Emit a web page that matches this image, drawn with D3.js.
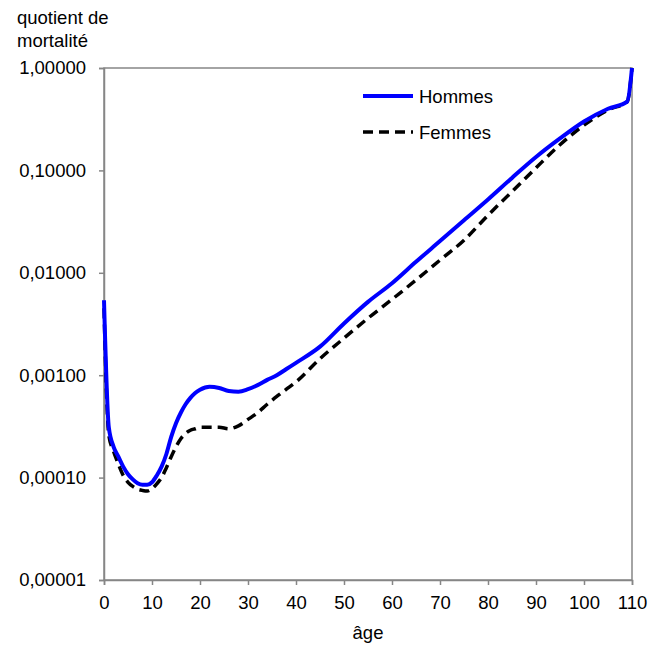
<!DOCTYPE html>
<html>
<head>
<meta charset="utf-8">
<script src="https://cdn.jsdelivr.net/npm/d3@7"></script>
<style>
  body { margin: 0; background: #fff; }
  text { font-family: "Liberation Sans", Arial, sans-serif; fill: #000; }
</style>
</head>
<body>
<div id="vis"></div>
<script>
// ages (years) and death quotients
const ages = [0, 1, 2, 3, 4, 5, 6, 7, 8, 9, 10, 11, 12, 13, 14, 15, 16, 17, 18, 19, 20,
  22, 24, 26, 28, 30, 32, 34, 36, 38, 40, 45, 50, 55, 60, 65, 70, 75, 80, 85, 90, 95,
  100, 105, 109, 110];

const hommes = [0.0054, 0.00031, 0.0002, 0.00016, 0.000128, 0.000108, 0.000096, 0.000088,
  0.000085, 0.000085, 0.00009, 0.000105, 0.000128, 0.00017, 0.00025, 0.00034, 0.00043,
  0.00052, 0.0006, 0.00067, 0.00072, 0.00077, 0.00075, 0.0007, 0.00069, 0.00073, 0.0008,
  0.0009, 0.001, 0.00115, 0.00132, 0.0019, 0.0032, 0.0052, 0.0079, 0.0128, 0.0204, 0.0326,
  0.052, 0.0845, 0.135, 0.205, 0.3, 0.4, 0.47, 1.0];

const femmes = [0.0045, 0.00026, 0.00018, 0.000135, 0.000105, 0.00009, 0.000082, 0.000077,
  0.000075, 0.000074, 0.000078, 0.000087, 0.0001, 0.000125, 0.00016, 0.0002, 0.00024,
  0.00027, 0.00029, 0.0003, 0.00031, 0.00031, 0.00031, 0.0003, 0.00032, 0.00037, 0.00043,
  0.00052, 0.00062, 0.00073, 0.00086, 0.00145, 0.0023, 0.0036, 0.0055, 0.0085, 0.0133,
  0.0208, 0.0365, 0.062, 0.106, 0.178, 0.277, 0.39, 0.47, 1.0];

const xTicks = [0, 10, 20, 30, 40, 50, 60, 70, 80, 90, 100, 110];
const yTicks = [1, 0.1, 0.01, 0.001, 0.0001, 0.00001];
const seriesNames = ["Hommes", "Femmes"];

const width = 662;
const height = 645;
const margin = { top: 68, right: 30, bottom: 65, left: 104 };
const fontSize = '18.5px';

const svg = d3.select('#vis')
  .append('svg')
  .attr('width', width)
  .attr('height', height);

const x = d3.scaleLinear()
  .domain([0, 110])
  .range([margin.left, width - margin.right]);

const y = d3.scaleLog()
  .domain([0.00001, 1])
  .range([height - margin.bottom, margin.top]);

const frameColour = '#868686';

// plot frame
svg.append('rect')
  .attr('x', x(0))
  .attr('y', y(1))
  .attr('width', x(110) - x(0))
  .attr('height', y(0.00001) - y(1))
  .attr('fill', 'none')
  .attr('stroke', frameColour)
  .attr('stroke-width', 1.5);

// french number format, e.g. 0,00100
const fmt = d => d.toFixed(5).replace('.', ',');

const yAxis = svg.append('g')
  .attr('transform', `translate(${x(0)},0)`)
  .call(d3.axisLeft(y).tickValues(yTicks).tickFormat(fmt).tickSize(5).tickPadding(13));

const xAxis = svg.append('g')
  .attr('transform', `translate(0,${y(0.00001)})`)
  .call(d3.axisBottom(x).tickValues(xTicks).tickFormat(d3.format('d')).tickSize(5).tickPadding(11));

[xAxis, yAxis].forEach(a => {
  a.select('.domain').attr('stroke', frameColour).attr('stroke-width', 1.5);
  a.selectAll('.tick line').attr('stroke', frameColour).attr('stroke-width', 1.5);
  a.selectAll('.tick text')
    .style('font-size', fontSize)
    .style('font-family', '"Liberation Sans", Arial, sans-serif')
    .attr('fill', '#000');
});

// axis titles
const yTitle = svg.append('text')
  .style('font-size', fontSize);
yTitle.append('tspan').attr('x', 17).attr('y', 24).text('quotient de');
yTitle.append('tspan').attr('x', 17).attr('y', 47).text('mortalité');

svg.append('text')
  .attr('x', x(55))
  .attr('y', 639)
  .attr('text-anchor', 'middle')
  .style('font-size', fontSize)
  .text('âge');

// lines
const line = values => d3.line()
  .x((d, i) => x(ages[i]))
  .y(d => y(d))
  .curve(d3.curveMonotoneX)(values);

svg.append('path')
  .attr('d', line(femmes))
  .attr('fill', 'none')
  .attr('stroke', '#000')
  .attr('stroke-width', 3.5)
  .attr('stroke-dasharray', '10,6');

svg.append('path')
  .attr('d', line(hommes))
  .attr('fill', 'none')
  .attr('stroke', '#0000ff')
  .attr('stroke-width', 4);

// legend
const legend = svg.append('g');
const legendStyles = [
  { colour: '#0000ff', dash: null, w: 4 },
  { colour: '#000', dash: '10,6', w: 3.5 }
];
seriesNames.forEach((name, i) => {
  const ly = 96 + i * 36;
  legend.append('line')
    .attr('x1', 363).attr('x2', 413)
    .attr('y1', ly).attr('y2', ly)
    .attr('stroke', legendStyles[i].colour)
    .attr('stroke-width', legendStyles[i].w)
    .attr('stroke-dasharray', legendStyles[i].dash);
  legend.append('text')
    .attr('x', 419)
    .attr('y', ly + 7)
    .style('font-size', fontSize)
    .text(name);
});
</script>
</body>
</html>
